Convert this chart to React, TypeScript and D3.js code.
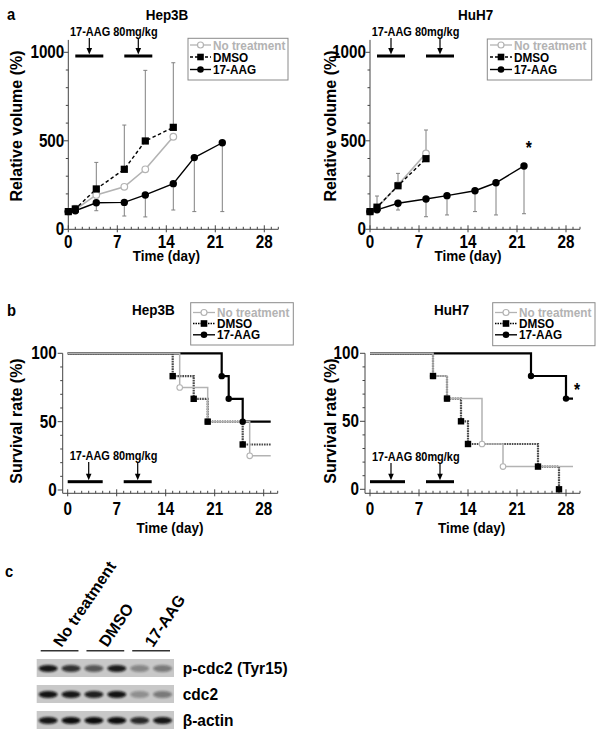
import React from 'react';
import * as d3 from 'd3';

const FONT = '"Liberation Sans", Arial, Helvetica, sans-serif';

// ---------- Panel a: relative tumour volume (%) ----------
const hep3bNtDays = [0, 1, 4, 8, 11, 15];
const hep3bNtVol = [100, 112, 194, 240, 339, 523];
const hep3bDmsoDays = [0, 1, 4, 8, 11, 15];
const hep3bDmsoVol = [100, 115, 228, 339, 499, 576];
const hep3bDmsoUpper = [100, 135, 378, 589, 898, 941];
const hep3bAagDays = [0, 1, 4, 8, 11, 15, 18, 22];
const hep3bAagVol = [100, 105, 150, 152, 194, 258, 405, 489];
const hep3bAagLower = [100, 105, 105, 75, 70, 109, 100, 100];

const huh7NtDays = [0, 1, 4, 8];
const huh7NtVol = [100, 120, 250, 429];
const huh7DmsoDays = [0, 1, 4, 8];
const huh7DmsoVol = [100, 125, 246, 399];
const huh7DmsoUpper = [100, 188, 316, 561];
const huh7AagDays = [0, 1, 4, 8, 11, 15, 18, 22];
const huh7AagVol = [100, 110, 147, 171, 190, 218, 263, 358];
const huh7AagLower = [100, 110, 109, 71, 81, 100, 81, 88];

// ---------- Panel b: survival rate (%) ----------
const hep3bSurvNtT = [0, 16, 20, 26];
const hep3bSurvNtS = [100, 75, 50, 25];
const hep3bSurvDmsoT = [0, 15, 18, 20, 25];
const hep3bSurvDmsoS = [100, 83.3, 66.7, 50, 33.3];
const hep3bSurvAagT = [0, 22, 23, 25];
const hep3bSurvAagS = [100, 83.3, 66.7, 50];
const hep3bSurvEnd = [29, 29, 29];

const huh7SurvNtT = [0, 9, 11, 16, 19];
const huh7SurvNtS = [100, 83.3, 66.7, 33.3, 16.7];
const huh7SurvDmsoT = [0, 9, 11, 13, 14, 24, 27];
const huh7SurvDmsoS = [100, 83.3, 66.7, 50, 33.3, 16.7, 0];
const huh7SurvAagT = [0, 23, 28];
const huh7SurvAagS = [100, 83.3, 66.7];
const huh7SurvEnd = [29, 27, 29];

// ---------- shared labels ----------
const xTicks = [0, 7, 14, 21, 28];
const volTicks = [0, 500, 1000];
const survTicks = [0, 50, 100];
const legendLabels = ['No treatment', 'DMSO', '17-AAG'];
const treatmentLabel = '17-AAG 80mg/kg';
const doseDays = [3, 10];
const doseWindowsA = [[1, 5], [8, 12]];
const doseWindowsB = [[0, 5], [8, 12]];

// ---------- Panel c: western blot ----------
const blotGroups = ['No treatment', 'DMSO', '17-AAG'];
const blotRows = ['p-cdc2 (Tyr15)', 'cdc2', 'β-actin'];
const pcdc2Intensity = [0.95, 0.8, 0.6, 0.92, 0.35, 0.42];
const cdc2Intensity = [0.97, 0.95, 0.9, 0.97, 0.3, 0.42];
const actinIntensity = [0.95, 1, 1, 1, 0.85, 0.95];

const GRAY = '#b3b3b3';
const SX = 0.87;

function T({ x, y, size, anchor = 'start', sx = SX, fill = '#000', children }: any) {
  return (
    <text transform={`translate(${x},${y}) scale(${sx},1)`} fontSize={size} textAnchor={anchor}
      fontFamily={FONT} fontWeight="bold" fill={fill}>{children}</text>
  );
}

function Dosing({ xs, textX, textY, barY, windows }: any) {
  return (
    <g>
      <T x={textX} y={textY} size={12.6}>{treatmentLabel}</T>
      {doseDays.map((d, i) => {
        const cx = xs(d);
        return (
          <g key={i}>
            <line x1={cx} x2={cx} y1={textY + 2} y2={barY - 6} stroke="#000" strokeWidth={1.2} />
            <path d={`M${cx - 2.8},${barY - 8} L${cx + 2.8},${barY - 8} L${cx},${barY - 1.5} Z`} fill="#000" />
          </g>
        );
      })}
      {windows.map((w: number[], i: number) => (
        <rect key={i} x={xs(w[0])} width={xs(w[1]) - xs(w[0])} y={barY - 1.5} height={3} fill="#000" />
      ))}
    </g>
  );
}

function Legend({ box, lx1, lx2, tx, rows, dmsoDash }: any) {
  const [bx, by, bw, bh] = box;
  const mx = (lx1 + lx2) / 2;
  return (
    <g>
      <rect x={bx} y={by} width={bw} height={bh} fill="#fff" stroke="#8a8a8a" strokeWidth={1} />
      <line x1={lx1} x2={lx2} y1={rows[0]} y2={rows[0]} stroke={GRAY} strokeWidth={1.3} />
      <circle cx={mx} cy={rows[0]} r={3} fill="#fff" stroke={GRAY} strokeWidth={1.2} />
      <line x1={lx1} x2={lx2} y1={rows[1]} y2={rows[1]} stroke="#000" strokeWidth={1.4} strokeDasharray={dmsoDash} />
      <rect x={mx - 3.3} y={rows[1] - 3.3} width={6.6} height={6.6} fill="#000" />
      <line x1={lx1} x2={lx2} y1={rows[2]} y2={rows[2]} stroke="#000" strokeWidth={1.4} />
      <circle cx={mx} cy={rows[2]} r={3.3} fill="#000" />
      {legendLabels.map((l, i) => (
        <T key={l} x={tx} y={rows[i] + 4.6} size={13.5} fill={i === 0 ? GRAY : '#000'}>{l}</T>
      ))}
    </g>
  );
}

function XAxis({ xs, yAxis, xStart, xEnd, labelY, titleX, titleY }: any) {
  return (
    <g>
      <line x1={xStart} x2={xEnd} y1={yAxis} y2={yAxis} stroke="#444" strokeWidth={1} />
      {d3.range(0, 31).map((d) => (
        <line key={d} x1={xs(d)} x2={xs(d)} y1={yAxis - (d % 7 === 0 ? 4 : 2.5)} y2={yAxis + (d % 7 === 0 ? 3 : 0)}
          stroke="#444" strokeWidth={1} />
      ))}
      {xTicks.map((d) => (
        <T key={d} x={xs(d)} y={labelY} size={17.5} anchor="middle">{d}</T>
      ))}
      <T x={titleX} y={titleY} size={15.5} anchor="middle">Time (day)</T>
    </g>
  );
}

function VolumePanel({ x0, title, titleX, yTitleX, legendBox, lx1, lx2, tx, nt, dmso, aag, star }: any) {
  const xs = d3.scaleLinear().domain([0, 30]).range([x0, x0 + 210]);
  const ys = d3.scaleLinear().domain([0, 1000]).range([229.3, 52.3]);
  const line = d3.line<[number, number]>().x((d) => xs(d[0])).y((d) => ys(d[1]));
  const pts = (days: number[], v: number[]) => days.map((d, i) => [d, v[i]] as [number, number]);
  return (
    <g>
      <T x={titleX} y={20} size={15.5} anchor="middle">{title}</T>
      <Dosing xs={xs} textX={x0 + 1.7} textY={36} barY={56} windows={doseWindowsA} />
      {/* y axis */}
      <line x1={x0} x2={x0} y1={ys(0)} y2={ys(1070)} stroke="#444" strokeWidth={1} />
      {d3.range(0, 1001, 100).map((v) => (
        <line key={v} x1={x0 - (v % 500 === 0 ? 4.5 : 2.5)} x2={x0} y1={ys(v)} y2={ys(v)} stroke="#444" strokeWidth={1} />
      ))}
      {volTicks.map((v) => (
        <T key={v} x={x0 - 4} y={ys(v) + 6} size={17.5} anchor="end">{v}</T>
      ))}
      <text transform={`translate(${yTitleX},126) rotate(-90)`} fontSize={16} textAnchor="middle"
        fontFamily={FONT} fontWeight="bold">Relative volume (%)</text>
      <XAxis xs={xs} yAxis={ys(0)} xStart={x0} xEnd={xs(30)} labelY={247.5} titleX={xs(14)} titleY={261} />
      {/* error bars */}
      {dmso.days.map((d: number, i: number) => dmso.upper[i] > dmso.vals[i] ? (
        <g key={'du' + i}>
          <line x1={xs(d)} x2={xs(d)} y1={ys(dmso.vals[i])} y2={ys(dmso.upper[i])} stroke="#808080" strokeWidth={1} />
          <line x1={xs(d) - 2} x2={xs(d) + 2} y1={ys(dmso.upper[i])} y2={ys(dmso.upper[i])} stroke="#808080" strokeWidth={1} />
        </g>
      ) : null)}
      {aag.days.map((d: number, i: number) => aag.lower[i] < aag.vals[i] ? (
        <g key={'al' + i}>
          <line x1={xs(d)} x2={xs(d)} y1={ys(aag.vals[i])} y2={ys(aag.lower[i])} stroke="#808080" strokeWidth={1} />
          <line x1={xs(d) - 2} x2={xs(d) + 2} y1={ys(aag.lower[i])} y2={ys(aag.lower[i])} stroke="#808080" strokeWidth={1} />
        </g>
      ) : null)}
      {/* series */}
      <path d={line(pts(nt.days, nt.vals)) || ''} fill="none" stroke={GRAY} strokeWidth={1.6} />
      <path d={line(pts(dmso.days, dmso.vals)) || ''} fill="none" stroke="#000" strokeWidth={1.4} strokeDasharray="3.5,2.5" />
      <path d={line(pts(aag.days, aag.vals)) || ''} fill="none" stroke="#000" strokeWidth={1.4} />
      {nt.days.map((d: number, i: number) => (
        <circle key={'nc' + i} cx={xs(d)} cy={ys(nt.vals[i])} r={3.3} fill="#fff" stroke={GRAY} strokeWidth={1.2} />
      ))}
      {dmso.days.map((d: number, i: number) => (
        <rect key={'ds' + i} x={xs(d) - 3.6} y={ys(dmso.vals[i]) - 3.6} width={7.2} height={7.2} fill="#000" />
      ))}
      {aag.days.map((d: number, i: number) => (
        <circle key={'ac' + i} cx={xs(d)} cy={ys(aag.vals[i])} r={3.7} fill="#000" />
      ))}
      {star ? <T x={xs(star[0])} y={ys(star[1])} size={18} anchor="middle">*</T> : null}
      <Legend box={legendBox} lx1={lx1} lx2={lx2} tx={tx} rows={[45, 57, 69.5]} dmsoDash="3,2" />
    </g>
  );
}

function SurvivalPanel({ x0, y0, yAxisX, title, titleX, yTitleX, legendBox, lx1, lx2, tx, textY, nt, dmso, aag, ends, star, timeTitleX }: any) {
  const xs = d3.scaleLinear().domain([0, 28]).range([x0, x0 + 196]);
  const ys = d3.scaleLinear().domain([0, 100]).range([y0, 353.3]);
  const axisY = 493.3;
  const step = d3.line<[number, number]>().x((d) => xs(d[0])).y((d) => ys(d[1])).curve(d3.curveStepAfter);
  const pts = (t: number[], s: number[], end: number) => {
    const p = t.map((d, i) => [d, s[i]] as [number, number]);
    if (end > t[t.length - 1]) p.push([end, s[s.length - 1]]);
    return p;
  };
  return (
    <g>
      <T x={titleX} y={315} size={15.5} anchor="middle">{title}</T>
      <Dosing xs={xs} textX={x0 + 2} textY={textY} barY={481.7} windows={doseWindowsB} />
      <line x1={yAxisX} x2={yAxisX} y1={ys(100)} y2={axisY} stroke="#444" strokeWidth={1} />
      {d3.range(0, 101, 10).map((v) => (
        <line key={v} x1={yAxisX - (v % 50 === 0 ? 5 : 2.5)} x2={yAxisX} y1={ys(v)} y2={ys(v)} stroke="#444" strokeWidth={1} />
      ))}
      {survTicks.map((v) => (
        <T key={v} x={yAxisX - 6} y={ys(v) + 6} size={17.5} anchor="end">{v}</T>
      ))}
      <text transform={`translate(${yTitleX},421) rotate(-90)`} fontSize={16} textAnchor="middle"
        fontFamily={FONT} fontWeight="bold">Survival rate (%)</text>
      <XAxis xs={xs} yAxis={axisY} xStart={yAxisX} xEnd={xs(30)} labelY={515} titleX={timeTitleX} titleY={533} />
      <path d={step(pts(aag.t, aag.s, ends[2])) || ''} fill="none" stroke="#000" strokeWidth={2.2} />
      <path d={step(pts(dmso.t, dmso.s, ends[1])) || ''} fill="none" stroke="#4a4a4a" strokeWidth={2.2} strokeDasharray="1.6,0.9" />
      <path d={step(pts(nt.t, nt.s, ends[0])) || ''} fill="none" stroke={GRAY} strokeWidth={1.5} />
      {nt.t.map((d: number, i: number) => i === 0 ? null : (
        <circle key={'n' + i} cx={xs(d)} cy={ys(nt.s[i])} r={2.8} fill="#fff" stroke={GRAY} strokeWidth={1.1} />
      ))}
      {dmso.t.map((d: number, i: number) => i === 0 ? null : (
        <rect key={'d' + i} x={xs(d) - 3.2} y={ys(dmso.s[i]) - 3.2} width={6.4} height={6.4} fill="#000" />
      ))}
      {aag.t.map((d: number, i: number) => i === 0 ? null : (
        <circle key={'a' + i} cx={xs(d)} cy={ys(aag.s[i])} r={3.2} fill="#000" />
      ))}
      {star ? <T x={star[0]} y={star[1]} size={18} anchor="middle">*</T> : null}
      <Legend box={legendBox} lx1={lx1} lx2={lx2} tx={tx} rows={[312.5, 323.5, 334.8]} dmsoDash="1.5,1" />
    </g>
  );
}

function Blot() {
  const lanes = d3.range(6);
  const xb = d3.scaleBand<number>().domain(lanes).range([36.7, 174]);
  const rowsY = [659, 685, 711];
  const rowH = 18;
  const intens = [pcdc2Intensity, cdc2Intensity, actinIntensity];
  const groupScale = d3.scaleBand<number>().domain([0, 1, 2]).range([36.7, 174]);
  return (
    <g>
      <defs>
        <filter id="bandBlur" x="-30%" y="-80%" width="160%" height="260%">
          <feGaussianBlur stdDeviation="1.1" />
        </filter>
      </defs>
      {blotGroups.map((g, i) => {
        const gx = groupScale(i)!;
        const gw = groupScale.bandwidth();
        return (
          <g key={g}>
            <line x1={gx + 4} x2={gx + gw - 4} y1={650.7} y2={650.7} stroke="#333" strokeWidth={1.4} />
            <text transform={`translate(${gx + gw / 2 + 2},648) rotate(-56)`} fontSize={16}
              fontFamily={FONT} fontWeight="bold">{g}</text>
          </g>
        );
      })}
      {blotRows.map((r, ri) => (
        <g key={r}>
          <rect x={36.7} y={rowsY[ri]} width={137.3} height={rowH} fill="#c8c8c8" />
          {lanes.map((l) => (
            <ellipse key={l} cx={xb(l)! + xb.bandwidth() / 2} cy={rowsY[ri] + rowH / 2 + 0.5}
              rx={9.5} ry={3.4} fill="#0a0a0a" opacity={intens[ri][l]} filter="url(#bandBlur)" />
          ))}
          <T x={182.7} y={rowsY[ri] + rowH / 2 + 5.5} size={16} sx={0.97}>{r}</T>
        </g>
      ))}
    </g>
  );
}

export default function App() {
  return (
    <svg width={601} height={735} style={{ position: 'absolute', left: 0, top: 0, background: '#fff' }}>
      <rect width={601} height={735} fill="#fff" />
      <T x={7} y={20} size={17}>a</T>
      <T x={7} y={316} size={17}>b</T>
      <T x={5} y={577} size={17}>c</T>
      <VolumePanel x0={68.3} title="Hep3B" titleX={167} yTitleX={22}
        legendBox={[188, 38.3, 100, 41.7]} lx1={190} lx2={211} tx={213}
        nt={{ days: hep3bNtDays, vals: hep3bNtVol }}
        dmso={{ days: hep3bDmsoDays, vals: hep3bDmsoVol, upper: hep3bDmsoUpper }}
        aag={{ days: hep3bAagDays, vals: hep3bAagVol, lower: hep3bAagLower }} />
      <VolumePanel x0={370} title="HuH7" titleX={475.7} yTitleX={336}
        legendBox={[487.3, 39, 104.4, 41]} lx1={490} lx2={512} tx={514}
        nt={{ days: huh7NtDays, vals: huh7NtVol }}
        dmso={{ days: huh7DmsoDays, vals: huh7DmsoVol, upper: huh7DmsoUpper }}
        aag={{ days: huh7AagDays, vals: huh7AagVol, lower: huh7AagLower }}
        star={[22.7, 428]} />
      <SurvivalPanel x0={67.7} y0={490} yAxisX={62.7} title="Hep3B" titleX={153.3} yTitleX={22}
        legendBox={[190.7, 302.7, 102.6, 42.3]} lx1={193} lx2={215} tx={217} textY={460}
        nt={{ t: hep3bSurvNtT, s: hep3bSurvNtS }} dmso={{ t: hep3bSurvDmsoT, s: hep3bSurvDmsoS }}
        aag={{ t: hep3bSurvAagT, s: hep3bSurvAagS }} ends={hep3bSurvEnd} timeTitleX={170} />
      <SurvivalPanel x0={370} y0={489.3} yAxisX={365} title="HuH7" titleX={451.7} yTitleX={336}
        legendBox={[492.7, 302.7, 102.3, 43]} lx1={495} lx2={517} tx={519} textY={461}
        nt={{ t: huh7SurvNtT, s: huh7SurvNtS }} dmso={{ t: huh7SurvDmsoT, s: huh7SurvDmsoS }}
        aag={{ t: huh7SurvAagT, s: huh7SurvAagS }} ends={huh7SurvEnd} timeTitleX={471.7}
        star={[577, 396]} />
      <Blot />
    </svg>
  );
}
